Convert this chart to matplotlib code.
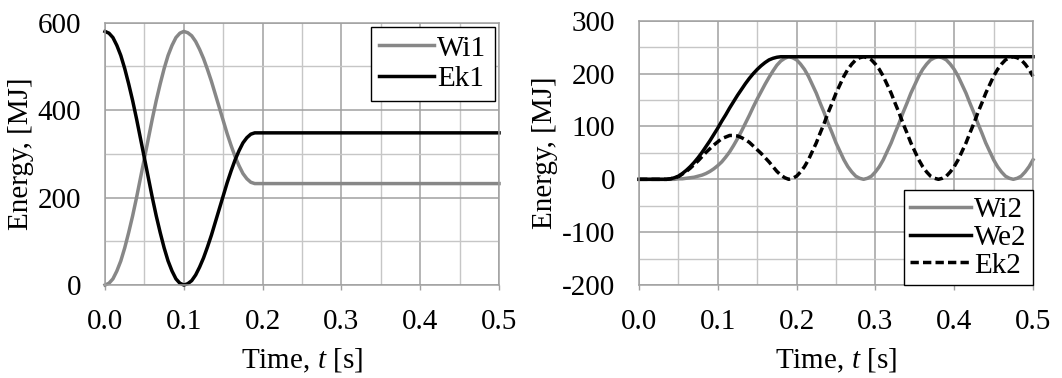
import matplotlib
matplotlib.use("Agg")
import matplotlib.pyplot as plt
from matplotlib.ticker import MultipleLocator

plt.rcParams['font.family'] = ['Liberation Serif', 'DejaVu Serif']
plt.rcParams['mathtext.fontset'] = 'custom'
plt.rcParams['mathtext.it'] = 'Liberation Serif:italic'
plt.rcParams['mathtext.rm'] = 'Liberation Serif'
plt.rcParams['axes.unicode_minus'] = False

# ---- left panel: sampled time [s] and energies [MJ]
t_left = [0.000, 0.005, 0.010, 0.015, 0.020, 0.025, 0.030, 0.035, 0.040, 0.045,
          0.050, 0.055, 0.060, 0.065, 0.070, 0.075, 0.080, 0.085, 0.090, 0.095,
          0.100, 0.105, 0.110, 0.115, 0.120, 0.125, 0.130, 0.135, 0.140, 0.145,
          0.150, 0.155, 0.160, 0.165, 0.170, 0.175, 0.180, 0.185, 0.190, 0.500]
wi1 = [0, 4, 14, 32, 55, 85, 120, 158, 200, 245,
       290, 335, 380, 422, 460, 495, 525, 548, 566, 576,
       580, 577, 570, 557, 539, 518, 493, 466, 436, 406,
       376, 346, 319, 294, 273, 255, 243, 235, 232, 232]
ek1 = [580, 576, 566, 548, 525, 495, 460, 422, 380, 335,
       290, 245, 200, 158, 120, 85, 55, 32, 14, 4,
       0, 3, 10, 23, 41, 62, 87, 114, 144, 174,
       204, 234, 261, 286, 307, 325, 337, 345, 348, 348]

# ---- right panel
t_we2 = [0.000, 0.035, 0.040, 0.045, 0.050, 0.055, 0.060, 0.065, 0.070, 0.075,
         0.080, 0.085, 0.090, 0.095, 0.100, 0.105, 0.110, 0.115, 0.120, 0.125,
         0.130, 0.135, 0.140, 0.145, 0.150, 0.155, 0.160, 0.165, 0.170, 0.175,
         0.180, 0.500]
we2 = [0, 0, 1, 3, 6, 11, 17, 24, 32, 41,
       51, 62, 73, 85, 97, 110, 122, 135, 147, 159,
       170, 181, 191, 200, 208, 215, 221, 226, 229, 231,
       232, 232]

t_right = [0.000, 0.005, 0.010, 0.015, 0.020, 0.025, 0.030, 0.035, 0.040, 0.045,
           0.050, 0.055, 0.060, 0.065, 0.070, 0.075, 0.080, 0.085, 0.090, 0.095,
           0.100, 0.105, 0.110, 0.115, 0.120, 0.125, 0.130, 0.135, 0.140, 0.145,
           0.150, 0.155, 0.160, 0.165, 0.170, 0.175, 0.180, 0.185, 0.190, 0.195,
           0.200, 0.205, 0.210, 0.215, 0.220, 0.225, 0.230, 0.235, 0.240, 0.245,
           0.250, 0.255, 0.260, 0.265, 0.270, 0.275, 0.280, 0.285, 0.290, 0.295,
           0.300, 0.305, 0.310, 0.315, 0.320, 0.325, 0.330, 0.335, 0.340, 0.345,
           0.350, 0.355, 0.360, 0.365, 0.370, 0.375, 0.380, 0.385, 0.390, 0.395,
           0.400, 0.405, 0.410, 0.415, 0.420, 0.425, 0.430, 0.435, 0.440, 0.445,
           0.450, 0.455, 0.460, 0.465, 0.470, 0.475, 0.480, 0.485, 0.490, 0.495,
           0.500]
wi2 = [0, 0, 0, 0, 0, 0, 0, 0, 0, 0,
       1, 1, 2, 3, 4, 6, 8, 11, 15, 20,
       26, 33, 42, 52, 64, 77, 91, 106, 121, 137,
       152, 166, 180, 193, 205, 216, 224, 229, 232, 230,
       226, 218, 208, 195, 179, 163, 144, 126, 106, 88,
       69, 53, 37, 24, 14, 6, 2, 0, 2, 6,
       14, 24, 37, 53, 69, 88, 106, 126, 144, 163,
       179, 195, 208, 218, 226, 230, 232, 230, 226, 218,
       208, 195, 179, 163, 144, 126, 106, 88, 69, 53,
       37, 24, 14, 6, 2, 0, 2, 6, 14, 24,
       37]
ek2 = [0, 0, 0, 0, 0, 0, 0, 0, 1, 3,
       5, 10, 15, 21, 28, 35, 43, 51, 58, 65,
       71, 77, 80, 83, 83, 82, 79, 75, 70, 63,
       56, 49, 41, 33, 24, 15, 8, 3, 0, 2,
       6, 14, 24, 37, 53, 69, 88, 106, 126, 144,
       163, 179, 195, 208, 218, 226, 230, 232, 230, 226,
       218, 208, 195, 179, 163, 144, 126, 106, 88, 69,
       53, 37, 24, 14, 6, 2, 0, 2, 6, 14,
       24, 37, 53, 69, 88, 106, 126, 144, 163, 179,
       195, 208, 218, 226, 230, 232, 230, 226, 218, 208,
       195]

GRAY = '#878787'
FS = 21
LW = 2.5

fig = plt.figure(figsize=(10.62, 3.78), dpi=100)
ax1 = fig.add_axes([0.0989, 0.246, 0.371, 0.694])
ax2 = fig.add_axes([0.6017, 0.246, 0.371, 0.699])


def style(ax, ymin, ymax, ymaj, ymin_step):
    ax.set_xlim(0, 0.5)
    ax.set_ylim(ymin, ymax)
    ax.xaxis.set_major_locator(MultipleLocator(0.1))
    ax.xaxis.set_minor_locator(MultipleLocator(0.05))
    ax.yaxis.set_major_locator(MultipleLocator(ymaj))
    ax.yaxis.set_minor_locator(MultipleLocator(ymin_step))
    ax.grid(True, which='major', color='#a0a0a0', lw=1.1)
    ax.grid(True, which='minor', color='#c6c6c6', lw=1.0)
    ax.set_axisbelow(True)
    for s in ax.spines.values():
        s.set_color('#a0a0a0')
        s.set_linewidth(1.1)
    ax.tick_params(which='both', labelsize=FS)
    ax.tick_params(axis='x', which='major', length=3.6, width=1.0,
                   color='#a0a0a0', pad=14)
    ax.tick_params(axis='x', which='minor', length=0)
    ax.tick_params(axis='y', which='both', length=0, pad=17)
    ax.xaxis.set_major_formatter(plt.FuncFormatter(lambda v, p: f"{v:.1f}"))
    ax.set_xlabel("Time, $t$ [s]", fontsize=FS, labelpad=8)
    ax.set_ylabel("Energy, [MJ]", fontsize=FS, labelpad=3)


style(ax1, 0, 600, 200, 100)
ax1.plot(t_left, wi1, color=GRAY, lw=LW, label='Wi1', clip_on=False)
ax1.plot(t_left, ek1, color='black', lw=LW, label='Ek1', clip_on=False)
leg1 = ax1.legend(loc='upper right', fontsize=FS, frameon=True, fancybox=False,
                  edgecolor='black', handlelength=1.9, borderaxespad=0.15,
                  labelspacing=0.15, handletextpad=0.1, borderpad=0.28,
                  framealpha=1)
leg1.get_frame().set_linewidth(1.0)

style(ax2, -200, 300, 100, 50)
ax2.plot(t_right, wi2, color=GRAY, lw=LW, label='Wi2', clip_on=False)
ax2.plot(t_we2, we2, color='black', lw=LW, label='We2', clip_on=False)
ax2.plot(t_right, ek2, color='black', lw=LW, ls=(0, (2.4, 1.2)), label='Ek2',
         clip_on=False)
leg2 = ax2.legend(loc='lower right', fontsize=FS, frameon=True, fancybox=False,
                  edgecolor='black', handlelength=2.1, borderaxespad=0.0,
                  labelspacing=0.05, handletextpad=0.1, borderpad=0.22,
                  framealpha=1)
leg2.get_frame().set_linewidth(1.0)

fig.savefig("out.png", dpi=100)
